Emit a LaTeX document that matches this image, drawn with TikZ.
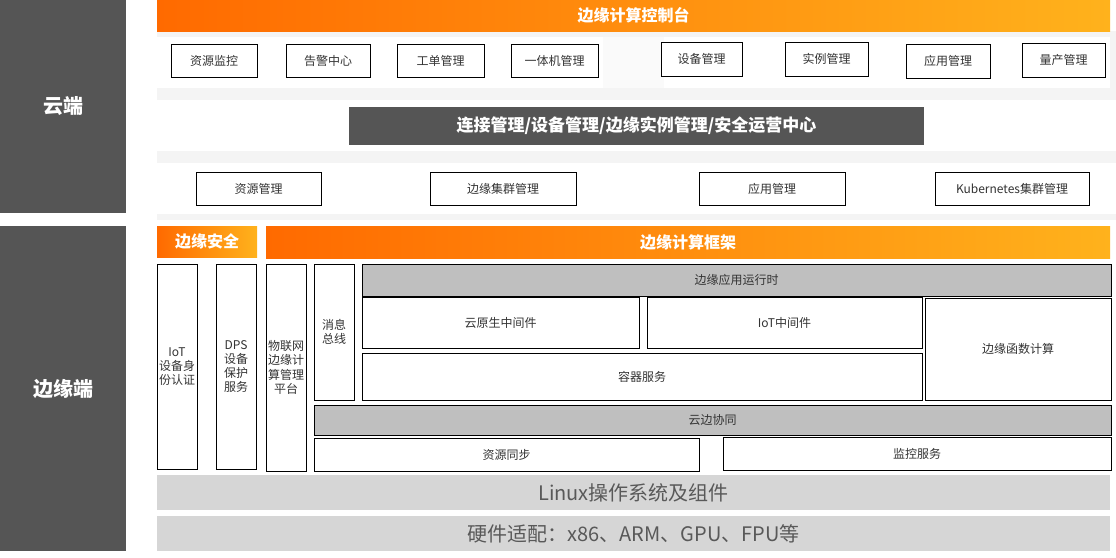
\documentclass[tikz,border=0pt]{standalone}
\usepackage{fontspec}
\setmainfont{Noto Sans CJK SC}
\definecolor{darkg}{HTML}{555555}
\definecolor{orL}{HTML}{FF6A00}
\definecolor{orR}{HTML}{FFB21C}
\definecolor{boxgray}{HTML}{BFBFBF}
\definecolor{bandgray}{HTML}{D6D6D6}
\definecolor{txt}{HTML}{333333}
\definecolor{bandtxt}{HTML}{595959}
\definecolor{shadeg}{HTML}{F4F4F4}
\definecolor{gapg}{HTML}{FAFAFA}
\newcommand\mybox[7]{\node[#2, minimum width={(#5-#3)*1pt}, minimum height={(#6-#4)*1pt}] (#1) at ({(#3+#5)/2},{(#4+#6)/2}) {#7};}
\begin{document}
\begin{tikzpicture}[x=1pt,y=-1pt,
  base/.style={inner sep=0pt, outer sep=0pt, align=center},
  box/.style={base, draw=black, line width=0.9pt, fill=white, text=txt, font=\fontsize{12}{14.2}\selectfont},
  gbox/.style={box, fill=boxgray},
  obar/.style={base, left color=orL, right color=orR, text=white, font=\bfseries\fontsize{16}{18}\selectfont},
  side/.style={base, fill=darkg, text=white, font=\bfseries\fontsize{20}{22}\selectfont},
  dbar/.style={base, fill=darkg, text=white, font=\bfseries\fontsize{17}{19}\selectfont},
  band/.style={base, fill=bandgray, text=bandtxt, font=\fontsize{20}{22}\selectfont}]
\useasboundingbox (0,0) rectangle (1116,557);
\fill[white] (0,0) rectangle (1116,557);
% cloud background bands
\fill[shadeg] (157,31) rectangle (1116,220);
\fill[white] (157,37) rectangle (603,88);
\fill[gapg] (603,37) rectangle (664,88);
\fill[white] (664,37) rectangle (1110,88);
\fill[white] (157,100) rectangle (1116,151);
\fill[white] (157,163) rectangle (1116,214);
% side panels
\mybox{cloud}{side}{0}{0}{126}{213}{云端}
\mybox{edge}{side}{0}{226}{126}{551}{边缘端}
% console
\mybox{console}{obar}{157}{0}{1110}{31}{边缘计算控制台}
\mybox{c1}{box}{171}{44}{257}{77}{资源监控}
\mybox{c2}{box}{286}{44}{370}{77}{告警中心}
\mybox{c3}{box}{397}{44}{484}{77}{工单管理}
\mybox{c4}{box}{511}{44}{598}{77}{一体机管理}
\mybox{c5}{box}{661}{42}{742}{76}{设备管理}
\mybox{c6}{box}{785}{42}{868}{76}{实例管理}
\mybox{c7}{box}{906}{44}{990}{78}{应用管理}
\mybox{c8}{box}{1022}{43}{1105}{77}{量产管理}
% middle
\mybox{conn}{dbar}{349}{107}{924}{145}{连接管理/设备管理/边缘实例管理/安全运营中心}
% row 3
\mybox{r1}{box}{196}{172}{321}{205}{资源管理}
\mybox{r2}{box}{430}{172}{576}{205}{边缘集群管理}
\mybox{r3}{box}{699}{172}{845}{205}{应用管理}
\mybox{r4}{box}{935}{172}{1089}{205}{Kubernetes集群管理}
% edge
\mybox{sec}{obar}{157}{226}{257}{257}{边缘安全}
\mybox{frame}{obar}{266}{226}{1110}{258}{边缘计算框架}
\mybox{iot}{box}{157}{264}{197}{469}{IoT\\设备身\\份认证}
\mybox{dps}{box}{216}{264}{256}{469}{DPS\\设备\\保护\\服务}
\mybox{plat}{box}{266}{264}{306}{471}{物联网\\边缘计\\算管理\\平台}
\mybox{bus}{box}{314}{264}{354}{400}{消息\\总线}
\mybox{rt}{gbox}{362}{264}{1111}{296}{边缘应用运行时}
\mybox{cn}{box}{362}{297}{639}{348}{云原生中间件}
\mybox{iotm}{box}{647}{297}{922}{348}{IoT中间件}
\mybox{ctr}{box}{362}{353}{922}{400}{容器服务}
\mybox{fn}{box}{925}{298}{1111}{400}{边缘函数计算}
\mybox{sync}{gbox}{314}{405}{1111}{435}{云边协同}
\mybox{rs}{box}{314}{438}{699}{471}{资源同步}
\mybox{mon}{box}{723}{437}{1111}{470}{监控服务}
% bottom bands
\mybox{linux}{band}{157}{475}{1110}{510}{Linux操作系统及组件}
\mybox{hw}{band}{157}{516}{1110}{551}{硬件适配：x86、ARM、GPU、FPU等}
\end{tikzpicture}
\end{document}
